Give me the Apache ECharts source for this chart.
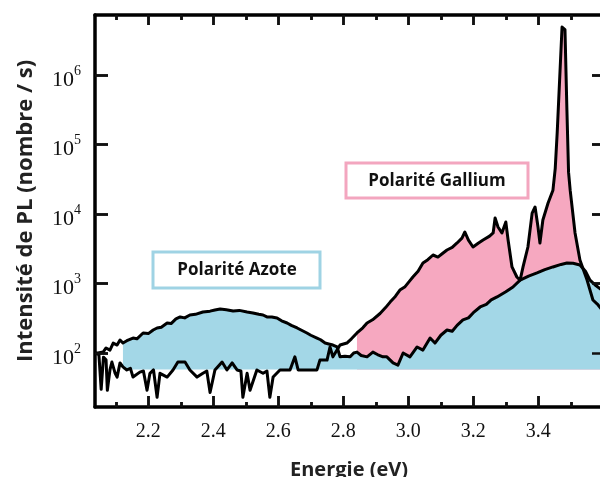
<!DOCTYPE html>
<html><head><meta charset="utf-8">
<script src="https://cdn.jsdelivr.net/npm/echarts@6/dist/echarts.min.js"></script>
<style>html,body{margin:0;padding:0;background:#fff}#c{width:600px;height:477px}</style>
</head><body><div id="c"></div>
<script>
// ---- data (energy eV, intensity counts/s) ----
const X_MIN = 2.036, X_MAX = 3.599;
const Y_MIN = 16.7, Y_MAX = 7.3e6;
const BASE = 58; // flat lower edge of the coloured fills
const xMajor = [2.2, 2.4, 2.6, 2.8, 3.0, 3.2, 3.4];
const xMinor = [2.1, 2.3, 2.5, 2.7, 2.9, 3.1, 3.3, 3.5];
const yDecades = [1e2, 1e3, 1e4, 1e5, 1e6];
const azoteStart = 2.12;
const galliumFillStart = 2.84;

const azote = [[2.036,100],[2.045,100],[2.061,103],[2.070,118],[2.082,110],[2.092,139],[2.104,130],[2.113,154],[2.122,139],[2.134,150],[2.153,164],[2.165,160],[2.184,194],[2.200,190],[2.215,214],[2.227,229],[2.240,235],[2.258,270],[2.270,265],[2.285,310],[2.298,330],[2.312,320],[2.328,352],[2.345,360],[2.368,389],[2.390,400],[2.405,416],[2.421,430],[2.440,420],[2.461,402],[2.480,410],[2.504,389],[2.522,377],[2.540,360],[2.553,352],[2.565,330],[2.580,330],[2.596,319],[2.610,290],[2.627,270],[2.640,250],[2.658,229],[2.670,214],[2.688,194],[2.700,180],[2.719,164],[2.730,155],[2.744,139],[2.755,135],[2.768,130],[2.781,122],[2.790,88],[2.805,90],[2.821,88],[2.832,100],[2.842,103],[2.855,92],[2.873,88],[2.891,103],[2.905,95],[2.922,88],[2.934,88],[2.953,72],[2.968,67],[2.984,100],[3.005,88],[3.027,122],[3.045,110],[3.067,164],[3.082,139],[3.100,180],[3.119,214],[3.135,205],[3.150,250],[3.168,299],[3.185,320],[3.200,380],[3.221,459],[3.240,500],[3.255,580],[3.273,640],[3.300,760],[3.322,891],[3.344,1120],[3.370,1280],[3.396,1420],[3.420,1580],[3.445,1730],[3.470,1880],[3.488,1970],[3.507,1950],[3.528,1850],[3.545,1500],[3.559,1120],[3.575,950],[3.599,780]];

const gallium = [[2.036,100],[2.048,95],[2.055,30],[2.062,87],[2.070,80],[2.074,29],[2.082,57],[2.088,74],[2.098,51],[2.104,45],[2.113,72],[2.122,63],[2.134,57],[2.145,60],[2.153,45],[2.174,53],[2.185,55],[2.196,29],[2.205,51],[2.216,57],[2.227,23],[2.236,51],[2.258,45],[2.276,57],[2.291,74],[2.313,74],[2.328,57],[2.350,45],[2.368,51],[2.380,55],[2.390,27],[2.405,57],[2.427,74],[2.442,57],[2.458,72],[2.473,57],[2.485,55],[2.491,23],[2.504,51],[2.513,29],[2.534,57],[2.553,51],[2.565,55],[2.574,23],[2.584,45],[2.605,57],[2.636,57],[2.651,88],[2.661,57],[2.688,57],[2.719,57],[2.728,79],[2.750,79],[2.759,122],[2.768,88],[2.790,130],[2.811,139],[2.825,160],[2.842,194],[2.860,230],[2.873,270],[2.890,300],[2.913,370],[2.930,450],[2.944,540],[2.960,650],[2.974,805],[2.990,900],[3.005,1100],[3.014,1240],[3.030,1500],[3.045,1970],[3.060,2200],[3.076,2570],[3.091,2400],[3.105,2700],[3.119,3030],[3.135,3300],[3.150,3830],[3.165,4500],[3.174,5510],[3.185,4200],[3.199,3350],[3.215,3800],[3.230,4230],[3.250,4800],[3.261,5330],[3.267,8760],[3.276,6500],[3.288,5330],[3.300,7670],[3.307,4230],[3.319,1730],[3.334,1240],[3.344,1120],[3.353,1730],[3.368,3350],[3.381,10300],[3.390,12600],[3.399,6500],[3.405,3830],[3.414,8200],[3.430,14400],[3.445,22000],[3.452,45000],[3.458,146000],[3.464,150000],[3.473,4900000],[3.482,4500000],[3.488,310000],[3.493,40000],[3.498,22000],[3.513,5330],[3.528,2180],[3.550,1120],[3.568,579],[3.584,491],[3.599,400]];

const labelAzote = 'Polarité Azote';
const labelGallium = 'Polarité Gallium';
const xName = 'Energie (eV)';
const yName = 'Intensité de PL (nombre / s)';

// ---- chart ----
const BLUE = '#a3d7e7', PINK = '#f6a8c0';
const fillOf = (arr, start) => arr.filter(p => p[0] >= start).map(p => [p[0], Math.max(p[1], BASE)]);

const chart = echarts.init(document.getElementById('c'));
const mkLine = () => ({show: true, onZero: false, lineStyle: {color: '#000', width: 3.5}});
const mkTick = (len, vals) => ({show: true, inside: true, length: len, lineStyle: {color: '#111', width: 2.5}, customValues: vals});
const xAx = (extra) => Object.assign({type: 'value', min: X_MIN, max: X_MAX, splitLine: {show: false}, axisLabel: {show: false}}, extra);
const yAx = (extra) => Object.assign({type: 'log', logBase: 10, min: Y_MIN, max: Y_MAX, splitLine: {show: false}, axisLabel: {show: false}}, extra);

chart.setOption({
  animation: false,
  grid: {left: 95, top: 15, width: 508, height: 392, outerBoundsMode: 'none'},
  xAxis: [
    xAx({position: 'bottom', axisLine: mkLine(), axisTick: mkTick(11, xMajor),
      axisLabel: {show: true, customValues: xMajor, formatter: v => v.toFixed(1), margin: 15,
        fontFamily: 'Liberation Serif', fontSize: 20, color: '#111'},
      name: xName, nameLocation: 'middle', nameGap: 53,
      nameTextStyle: {fontFamily: 'Open Sans', fontWeight: 'bold', fontSize: 20, color: '#222'}}),
    xAx({position: 'bottom', axisLine: {show: false, onZero: false}, axisTick: mkTick(5, xMinor)}),
    xAx({position: 'top', axisLine: mkLine(), axisTick: mkTick(10, xMajor)}),
    xAx({position: 'top', axisLine: {show: false, onZero: false}, axisTick: mkTick(5, xMinor)})
  ],
  yAxis: [
    yAx({position: 'left', axisLine: mkLine(), axisTick: mkTick(13, yDecades),
      axisLabel: {show: true, customValues: yDecades, margin: 14,
        formatter: v => '{b|10}{s|' + Math.round(Math.log10(v)) + '}',
        rich: {b: {fontFamily: 'Liberation Serif', fontSize: 22, color: '#111', padding: [10, 0, 0, 0]},
               s: {fontFamily: 'Liberation Serif', fontSize: 14, color: '#111', padding: [0, 0, 8, 0]}}},
      name: yName, nameLocation: 'middle', nameRotate: 90, nameGap: 58,
      nameTextStyle: {fontFamily: 'Open Sans', fontWeight: 'bold', fontSize: 22, color: '#222'}}),
    yAx({position: 'right', axisLine: mkLine(), axisTick: mkTick(11, yDecades)})
  ],
  series: [
    {type: 'line', name: 'galliumFill', data: fillOf(gallium, galliumFillStart), symbol: 'none', z: 1,
     lineStyle: {width: 0}, areaStyle: {color: PINK, opacity: 1, origin: BASE}, silent: true},
    {type: 'line', name: 'azoteFill', data: fillOf(azote, azoteStart), symbol: 'none', z: 2,
     lineStyle: {width: 0}, areaStyle: {color: BLUE, opacity: 1, origin: BASE}, silent: true},
    {type: 'line', name: 'azote', data: azote, symbol: 'none', z: 3,
     lineStyle: {color: '#000', width: 3, join: 'round'}},
    {type: 'line', name: 'gallium', data: gallium, symbol: 'none', z: 3,
     lineStyle: {color: '#000', width: 3, join: 'round'}}
  ],
  graphic: [
    {type: 'rect', shape: {x: 153, y: 252, width: 167, height: 36}, z: 10,
     style: {fill: '#fff', stroke: '#9fd3e4', lineWidth: 3}},
    {type: 'text', x: 237, y: 270, z: 11,
     style: {text: labelAzote, fill: '#111', font: 'bold 17px "Open Sans"', align: 'center', verticalAlign: 'middle'}},
    {type: 'rect', shape: {x: 346, y: 163, width: 182, height: 35}, z: 10,
     style: {fill: '#fff', stroke: '#f3a6bf', lineWidth: 3}},
    {type: 'text', x: 437, y: 181, z: 11,
     style: {text: labelGallium, fill: '#111', font: 'bold 17px "Open Sans"', align: 'center', verticalAlign: 'middle'}}
  ]
});

// tick marks drawn through the axes' own scales (lengths converted from pixels)
(function () {
  const yPx = v => chart.convertToPixel({yAxisIndex: 0}, v);
  const xPx = v => chart.convertToPixel({xAxisIndex: 0}, v);
  const yVal = p => chart.convertFromPixel({yAxisIndex: 0}, p);
  const xVal = p => chart.convertFromPixel({xAxisIndex: 0}, p);
  const pxBot = yPx(Y_MIN), pxTop = yPx(Y_MAX), pxLft = xPx(X_MIN), pxRgt = xPx(X_MAX);
  const ticks = [];
  xMajor.forEach(v => { ticks.push([{coord: [v, Y_MIN]}, {coord: [v, yVal(pxBot - 11)]}]);
                        ticks.push([{coord: [v, Y_MAX]}, {coord: [v, yVal(pxTop + 10)]}]); });
  xMinor.forEach(v => { ticks.push([{coord: [v, Y_MIN]}, {coord: [v, yVal(pxBot - 5)]}]);
                        ticks.push([{coord: [v, Y_MAX]}, {coord: [v, yVal(pxTop + 5)]}]); });
  yDecades.forEach(v => { ticks.push([{coord: [X_MIN, v]}, {coord: [xVal(pxLft + 13), v]}]);
                          ticks.push([{coord: [X_MAX, v]}, {coord: [xVal(pxRgt - 11), v]}]); });
  chart.setOption({series: [{}, {}, {}, {
    markLine: {silent: true, symbol: ['none', 'none'], animation: false, label: {show: false},
      lineStyle: {color: '#111', width: 2.5, type: 'solid'}, emphasis: {disabled: true}, data: ticks}
  }]});
})();
</script></body></html>
